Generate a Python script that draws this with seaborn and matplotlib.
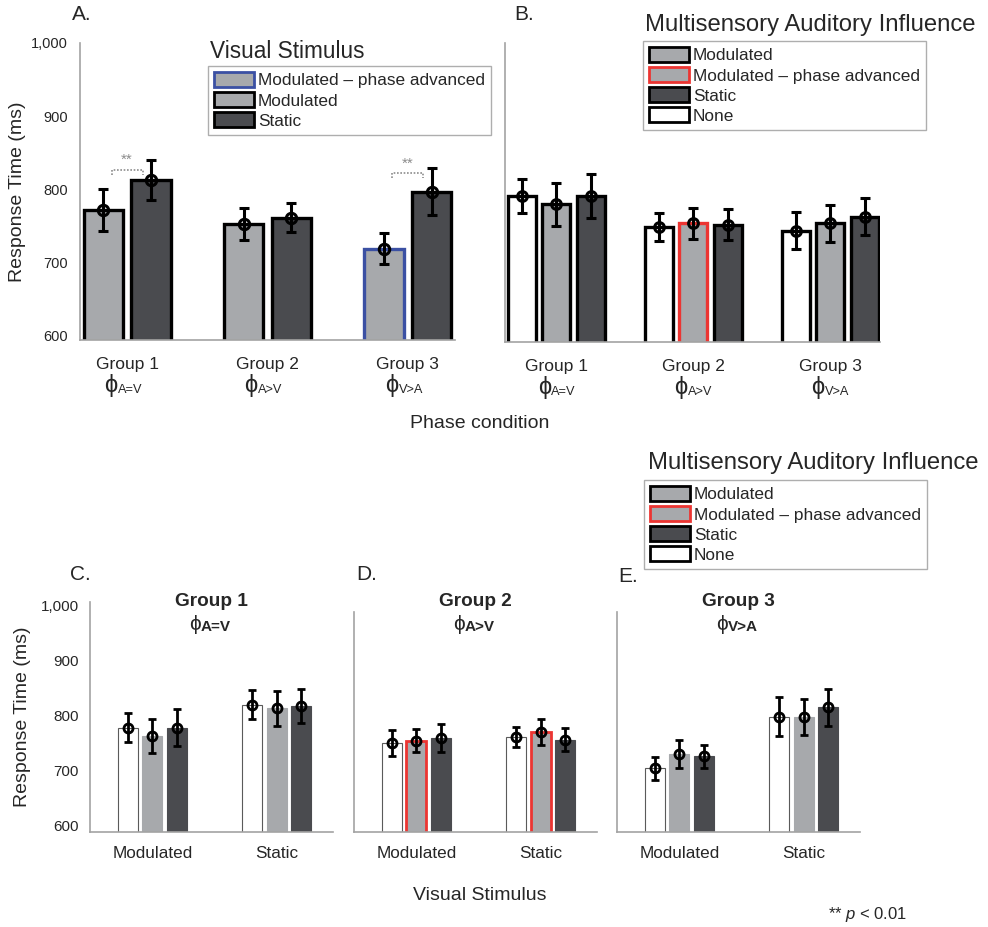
import matplotlib
matplotlib.use("Agg")
import matplotlib.pyplot as plt
from matplotlib.patches import Patch
from matplotlib.ticker import StrMethodFormatter
import pandas as pd
import seaborn as sns

sns.set_theme(style="white")
plt.rcParams["font.family"] = ["Liberation Sans", "DejaVu Sans"]
plt.rcParams["mathtext.fontset"] = "custom"
plt.rcParams["mathtext.rm"] = "Liberation Sans"
plt.rcParams["mathtext.it"] = "Liberation Sans:italic"
plt.rcParams["mathtext.bf"] = "Liberation Sans:bold"

# ---------------- data ----------------
groups = ["Group 1", "Group 2", "Group 3"]
phase_subs = ["A=V", "A>V", "V>A"]
yticks = [600, 700, 800, 900, 1000]

# Panel A: response time by visual stimulus
visual_levels = ["Modulated", "Static"]
a_mod_mean = [772, 753, 719]
a_mod_sem = [29, 22, 21]
a_sta_mean = [813, 761, 797]
a_sta_sem = [27, 20, 32]
sig_height = [827, 822]          # bracket heights for the ** comparisons
sig_groups = [0, 2]

# Panel B: response time by auditory influence
auditory_levels = ["None", "Modulated", "Static"]
b_none_mean = [792, 750, 745]
b_none_sem = [23, 19, 25]
b_mod_mean = [781, 755, 755]
b_mod_sem = [29, 21, 25]
b_sta_mean = [792, 753, 764]
b_sta_sem = [30, 21, 25]

# Panels C-E: visual stimulus x auditory influence, one panel per group
visual_ticks = ["Modulated", "Static"]
g1_none_mean, g1_none_sem = [778, 820], [26, 26]
g1_mod_mean, g1_mod_sem = [763, 813], [31, 31]
g1_sta_mean, g1_sta_sem = [778, 818], [34, 31]
g2_none_mean, g2_none_sem = [750, 761], [23, 19]
g2_mod_mean, g2_mod_sem = [754, 770], [21, 24]
g2_sta_mean, g2_sta_sem = [759, 756], [26, 21]
g3_none_mean, g3_none_sem = [704, 798], [21, 36]
g3_mod_mean, g3_mod_sem = [730, 798], [25, 33]
g3_sta_mean, g3_sta_sem = [726, 815], [21, 33]

# ---------------- style ----------------
LIGHT = "#a7a9ac"
DARK = "#4a4b4f"
BLUE = "#3b50a3"
RED = "#ec3532"
SPINE = "#a3a3a3"
W, H = 988, 927
PHI = "\u03d5"


def frame(xcats, levels, means, sems):
    rows = []
    for lev, m, s in zip(levels, means, sems):
        for x, mv, sv in zip(xcats, m, s):
            rows.append({"x": x, "level": lev, "rt": mv, "sem": sv})
    return pd.DataFrame(rows)


def fig_axes(fig, left, top, right, bottom):
    return fig.add_axes([left / W, 1 - bottom / H, (right - left) / W, (bottom - top) / H])


def style_axes(ax):
    for side in ["top", "right"]:
        ax.spines[side].set_visible(False)
    for side in ["left", "bottom"]:
        ax.spines[side].set_color(SPINE)
        ax.spines[side].set_linewidth(1.2)
    ax.tick_params(axis="both", length=0)
    ax.set_xlabel("")
    ax.set_ylabel("")


def bars(ax, df, order, hue_order, palette, width, gap, edge, lw):
    sns.barplot(data=df, x="x", y="rt", hue="level", order=order, hue_order=hue_order,
                palette=palette, width=width, gap=gap, errorbar=None, saturation=1,
                edgecolor=edge, linewidth=lw, legend=False, ax=ax)
    centers = {}
    for cont, lev in zip(ax.containers, hue_order):
        centers[lev] = [b.get_x() + b.get_width() / 2 for b in cont]
    return centers


def error_points(ax, df, centers, order, hue_order, ms, mew, capsize, elw):
    for lev in hue_order:
        sub = df[df["level"] == lev].set_index("x").loc[order]
        ax.errorbar(centers[lev], sub["rt"], yerr=sub["sem"], fmt="o", ms=ms,
                    mfc="none", mec="black", mew=mew, ecolor="black", elinewidth=elw,
                    capsize=capsize, capthick=elw, zorder=5)


def phi_label(ax, x, y, sub, transform, size, sub_size, shift, sub_weight="normal"):
    """Draw the phase symbol with its subscript, centred near (x, y)."""
    phi = ax.annotate(PHI, xy=(x, y), xycoords=transform, xytext=(shift, 0),
                      textcoords="offset points", ha="right", va="center",
                      fontsize=size, annotation_clip=False)
    ax.annotate(sub, xy=(1, 0.04), xycoords=phi, xytext=(0.4, 0), textcoords="offset points",
                ha="left", va="bottom", fontsize=sub_size, fontweight=sub_weight,
                annotation_clip=False)


fig = plt.figure(figsize=(W / 100, H / 100), dpi=100)

# ---------------- Panel A ----------------
axA = fig_axes(fig, 80, 43, 455, 340)
dfA = frame(groups, visual_levels, [a_mod_mean, a_sta_mean], [a_mod_sem, a_sta_sem])
cA = bars(axA, dfA, groups, visual_levels, {"Modulated": LIGHT, "Static": DARK},
          0.68, 0.18, "black", 2.4)
axA.containers[0][2].set_edgecolor(BLUE)
error_points(axA, dfA, cA, groups, visual_levels, 7.5, 2.2, 3.5, 2.2)
axA.set_xlim(-0.336, 2.336)
axA.set_ylim(594, 1000)
axA.set_yticks(yticks)
axA.yaxis.set_major_formatter(StrMethodFormatter("{x:,.0f}"))
style_axes(axA)
axA.tick_params(axis="y", labelsize=10.5, pad=9)
axA.set_xticks(range(len(groups)))
axA.set_xticklabels(groups, fontsize=12.5)
axA.tick_params(axis="x", pad=12)
for i, sub in enumerate(phase_subs):
    phi_label(axA, i - 0.03, -0.152, sub, axA.get_xaxis_transform(), 17, 9.2, -4)
axA.set_ylabel("Response Time (ms)", fontsize=14)
axA.yaxis.set_label_coords(-0.144, 0.5)

# significance brackets between Modulated and Static
for g, yb in zip(sig_groups, sig_height):
    x0 = cA["Modulated"][g] + 0.06
    x1 = cA["Static"][g] - 0.06
    drop = 7
    axA.plot([x0, x0, x1, x1], [yb - drop, yb, yb, yb - drop], ls=(0, (1, 1)),
             color="#8c8c8c", lw=1.2, zorder=4)
    axA.text((x0 + x1) / 2, yb + 4, "**", ha="center", va="bottom", fontsize=11, color="#8c8c8c")

# ---------------- Panel B ----------------
axB = fig_axes(fig, 505, 43, 880, 342)
dfB = frame(groups, auditory_levels, [b_none_mean, b_mod_mean, b_sta_mean],
            [b_none_sem, b_mod_sem, b_sta_sem])
cB = bars(axB, dfB, groups, auditory_levels, {"None": "white", "Modulated": LIGHT, "Static": DARK},
          0.756, 0.19, "black", 2.4)
axB.containers[1][1].set_edgecolor(RED)
error_points(axB, dfB, cB, groups, auditory_levels, 7, 2.2, 3.5, 2.2)
axB.set_xlim(-0.376, 2.365)
axB.set_ylim(594, 1000)
axB.set_yticks([])
style_axes(axB)
axB.set_xticks(range(len(groups)))
axB.set_xticklabels(groups, fontsize=12.5)
axB.tick_params(axis="x", pad=12)
for i, sub in enumerate(phase_subs):
    phi_label(axB, i, -0.152, sub, axB.get_xaxis_transform(), 17, 9.2, -4)

fig.text(480 / W, 1 - 423 / H, "Phase condition", fontsize=14, ha="center", va="center")

# ---------------- legends (upper) ----------------
fig.text(210 / W, 1 - 52 / H, "Visual Stimulus", fontsize=16.3, va="center")
legA = [Patch(facecolor=LIGHT, edgecolor=BLUE, linewidth=2, label="Modulated – phase advanced"),
        Patch(facecolor=LIGHT, edgecolor="black", linewidth=2, label="Modulated"),
        Patch(facecolor=DARK, edgecolor="black", linewidth=2, label="Static")]
legend_kw = dict(fontsize=12.4, frameon=True, fancybox=False, edgecolor="#9a9a9a",
                 handlelength=2.3, handleheight=0.95, handletextpad=0.25,
                 labelspacing=0.22, borderpad=0.35, borderaxespad=0)
lA = fig.legend(handles=legA, loc="upper left", bbox_to_anchor=(208 / W, 1 - 66 / H), **legend_kw)
lA.get_frame().set_linewidth(1.0)

aud_handles = [Patch(facecolor=LIGHT, edgecolor="black", linewidth=2, label="Modulated"),
               Patch(facecolor=LIGHT, edgecolor=RED, linewidth=2, label="Modulated – phase advanced"),
               Patch(facecolor=DARK, edgecolor="black", linewidth=2, label="Static"),
               Patch(facecolor="white", edgecolor="black", linewidth=2, label="None")]
fig.text(645 / W, 1 - 25 / H, "Multisensory Auditory Influence", fontsize=17.2, va="center")
lB = fig.legend(handles=aud_handles, loc="upper left", bbox_to_anchor=(643 / W, 1 - 41 / H), **legend_kw)
lB.get_frame().set_linewidth(1.0)

fig.text(648 / W, 1 - 463 / H, "Multisensory Auditory Influence", fontsize=17.2, va="center")
lC = fig.legend(handles=aud_handles, loc="upper left", bbox_to_anchor=(644 / W, 1 - 480 / H), **legend_kw)
lC.get_frame().set_linewidth(1.0)

# ---------------- Panels C-E ----------------
lower = [
    (90, groups[0], phase_subs[0],
     [g1_none_mean, g1_mod_mean, g1_sta_mean], [g1_none_sem, g1_mod_sem, g1_sta_sem], False),
    (354, groups[1], phase_subs[1],
     [g2_none_mean, g2_mod_mean, g2_sta_mean], [g2_none_sem, g2_mod_sem, g2_sta_sem], True),
    (617, groups[2], phase_subs[2],
     [g3_none_mean, g3_mod_mean, g3_sta_mean], [g3_none_sem, g3_mod_sem, g3_sta_sem], False),
]
edge_for = {"None": "#5a5a5a", "Modulated": LIGHT, "Static": DARK}
for k, (left, gname, sub, means, sems, advanced) in enumerate(lower):
    ax = fig_axes(fig, left, 602, left + 243, 832)
    df = frame(visual_ticks, auditory_levels, means, sems)
    cen = bars(ax, df, visual_ticks, auditory_levels,
               {"None": "white", "Modulated": LIGHT, "Static": DARK}, 0.59, 0.18, "black", 0.8)
    for cont, lev in zip(ax.containers, auditory_levels):
        for b in cont:
            b.set_edgecolor(edge_for[lev])
            if advanced and lev == "Modulated":
                b.set_edgecolor(RED)
                b.set_linewidth(2.0)
    error_points(ax, df, cen, visual_ticks, auditory_levels, 6.5, 2.0, 3, 2.0)
    ax.set_xlim(-0.5, 1.45)
    ax.set_ylim(588, 1007)
    style_axes(ax)
    ax.set_xticks(range(len(visual_ticks)))
    ax.set_xticklabels(visual_ticks, fontsize=12.3)
    ax.tick_params(axis="x", pad=10)
    if k == 0:
        ax.set_yticks(yticks)
        ax.yaxis.set_major_formatter(StrMethodFormatter("{x:,.0f}"))
        ax.tick_params(axis="y", labelsize=11, pad=8)
        ax.set_ylabel("Response Time (ms)", fontsize=14)
        ax.yaxis.set_label_coords(-0.243, 0.5)
    else:
        ax.set_yticks([])
        ax.spines["left"].set_bounds(588, 989)
    ax.text(0.5, 1.0, gname, transform=ax.transAxes, ha="center", va="center",
            fontsize=13.7, fontweight="bold")
    phi_label(ax, 0.5, 0.9, sub, ax.transAxes, 15, 11, -8, sub_weight="bold")

# ---------------- panel letters and notes ----------------
for letter, x, y in [("A.", 72, 14), ("B.", 514, 15), ("C.", 70, 575), ("D.", 356, 575), ("E.", 618, 576)]:
    fig.text(x / W, 1 - y / H, letter, fontsize=15, va="center")

fig.text(480 / W, 1 - 896 / H, "Visual Stimulus", fontsize=14, ha="center", va="center")
fig.text(828 / W, 1 - 914 / H, "** $p$ < 0.01", fontsize=12, ha="left", va="center")

fig.savefig("out.png", dpi=100)
